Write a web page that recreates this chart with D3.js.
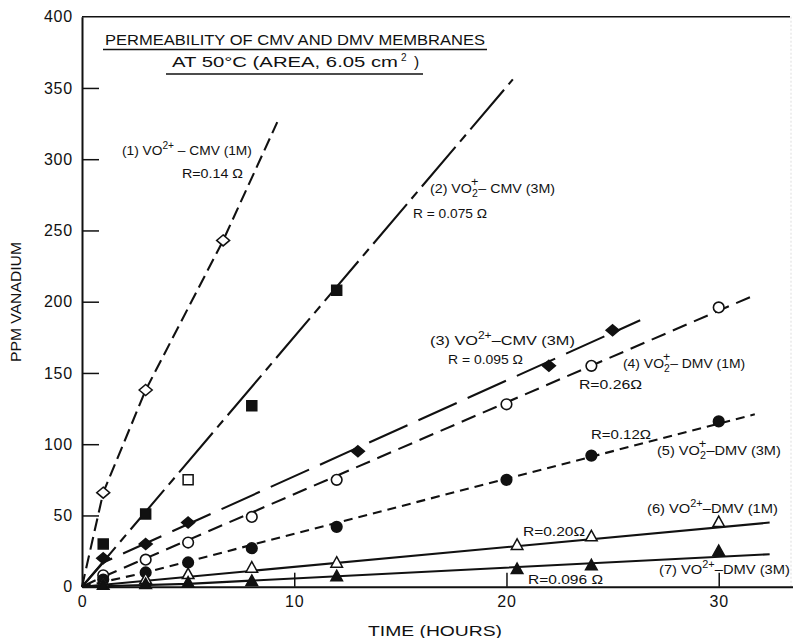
<!DOCTYPE html>
<html><head><meta charset="utf-8">
<script src="https://cdn.jsdelivr.net/npm/d3@7"></script>
<style>
body{margin:0;background:#fff}
svg{display:block}
text{font-family:"Liberation Sans",Arial,sans-serif;fill:#111}
</style>
</head><body>
<svg id="c" width="793" height="638"></svg>
<script>
// ---------- data (hours, ppm vanadium) ----------
const s1Time=[1,3,6.65],            s1Ppm=[66,138,243];          // open diamond
const s2Time=[1,3,8,12],            s2Ppm=[30,51,127,208];       // filled square
const s2OpenTime=[5],               s2OpenPpm=[75];              // open square
const s3Time=[1,3,5,13,22,25],      s3Ppm=[20,30,45,95,155,180]; // filled diamond
const s4Time=[1,3,5,8,12,20,24,30], s4Ppm=[8,19,31,49,75,128,155,196];   // open circle
const s5Time=[1,3,5,8,12,20,24,30], s5Ppm=[5,10,17,27,42,75,92,116];     // filled circle
const s6Time=[1,3,5,8,12,20.5,24,30], s6Ppm=[2.5,5,8.5,13,16.5,29,35,45];   // open triangle
const s7Time=[1,3,5,8,12,20.5,24,30], s7Ppm=[1,1.5,2.6,3.7,7,12,14.7,24.7]; // filled triangle
// drawn (fitted) lines
const fit1Time=[0,1,3,6.65,9.2], fit1Ppm=[0,66,138,243,326];
const fit2Time=[0,20.3],         fit2Ppm=[0,356];
const fit3Time=[0,1,26.3],       fit3Ppm=[0,17,187];
const fit4Time=[0,1,31.6],       fit4Ppm=[0,7,204];
const fit5Time=[0,3,31.7],       fit5Ppm=[0,10,121];
const fit6Time=[0,32.4],         fit6Ppm=[0,45];
const fit7Time=[0,5,32.4],       fit7Ppm=[0,2,22.8];
const xTicks=[0,10,20,30];
const yTicks=[0,50,100,150,200,250,300,350,400];

const zip=(a,b)=>a.map((v,i)=>[v,b[i]]);

const svg=d3.select("#c");
const x=d3.scaleLinear().domain([0,33.5]).range([82,793]);
const y=d3.scaleLinear().domain([0,400]).range([586.7,16.7]);
const ink="#111";

// ---------- frame / axes ----------
svg.append("line").attr("x1",x(0)).attr("x2",790).attr("y1",y(400)).attr("y2",y(400))
  .attr("stroke",ink).attr("stroke-width",1.5);
svg.append("line").attr("x1",791).attr("x2",791).attr("y1",y(400)).attr("y2",y(0))
  .attr("stroke","#ddd").attr("stroke-width",1).attr("stroke-dasharray","2,2");

const yAxis=d3.axisLeft(y).tickValues(yTicks).tickSize(-17).tickSizeOuter(0).tickPadding(9);
const gy=svg.append("g").attr("transform",`translate(${x(0)},0)`).call(yAxis);
gy.select(".domain").attr("stroke",ink).attr("stroke-width",2);
gy.selectAll(".tick line").attr("stroke",ink).attr("stroke-width",1.5)
  .attr("display",d=>(d===0||d===400)?"none":null);
gy.selectAll(".tick text").attr("font-family","DejaVu Sans, sans-serif").attr("font-size",16)
  .attr("letter-spacing",0.8).attr("fill",ink);

const xAxis=d3.axisBottom(x).tickValues(xTicks).tickSize(-14).tickSizeOuter(0).tickPadding(9);
const gx=svg.append("g").attr("transform",`translate(0,${y(0)})`).call(xAxis);
gx.select(".domain").attr("stroke",ink).attr("stroke-width",2);
gx.selectAll(".tick line").attr("stroke",ink).attr("stroke-width",1.5)
  .attr("display",d=>d===0?"none":null);
gx.selectAll(".tick text").attr("font-family","DejaVu Sans, sans-serif").attr("font-size",16)
  .attr("letter-spacing",0.8).attr("fill",ink);

// ---------- lines ----------
const line=d3.line().x(d=>x(d[0])).y(d=>y(d[1]));
const fits=[
  [zip(fit1Time,fit1Ppm),"13,6"],
  [zip(fit2Time,fit2Ppm),"52,7,9,7"],
  [zip(fit3Time,fit3Ppm),"42,12"],
  [zip(fit4Time,fit4Ppm),"15,8"],
  [zip(fit5Time,fit5Ppm),"9,6"],
  [zip(fit6Time,fit6Ppm),null],
  [zip(fit7Time,fit7Ppm),null]
];
svg.append("g").selectAll("path").data(fits).join("path")
  .attr("d",d=>line(d[0])).attr("fill","none").attr("stroke",ink).attr("stroke-width",2.1)
  .attr("stroke-dasharray",d=>d[1]);

// ---------- markers ----------
const shapes={
  diamond:"M0,-5.5L6.5,0L0,5.5L-6.5,0Z",
  square:"M-5,-5H5V5H-5Z",
  triangle:"M0,-6.5L5.8,4L-5.8,4Z"
};
function markers(data,kind,filled){
  const g=svg.append("g");
  const sel=g.selectAll("g").data(data).join("g")
    .attr("transform",d=>`translate(${x(d[0])},${y(d[1])})`);
  if(kind==="circle") sel.append("circle").attr("r",5.3)
    .attr("fill",filled?ink:"#fff").attr("stroke",ink).attr("stroke-width",1.6);
  else sel.append("path").attr("d",shapes[kind])
    .attr("fill",filled?ink:"#fff").attr("stroke",ink).attr("stroke-width",1.5);
}
markers(zip(s1Time,s1Ppm),"diamond",false);
markers(zip(s2Time,s2Ppm),"square",true);
markers(zip(s2OpenTime,s2OpenPpm),"square",false);
markers(zip(s3Time,s3Ppm),"diamond",true);
markers(zip(s4Time,s4Ppm),"circle",false);
markers(zip(s5Time,s5Ppm),"circle",true);
markers(zip(s6Time,s6Ppm),"triangle",false);
markers(zip(s7Time,s7Ppm),"triangle",true);

// ---------- title ----------
svg.append("text").attr("x",105).attr("y",44.5).attr("font-size",15.5)
  .attr("textLength",380).attr("lengthAdjust","spacingAndGlyphs")
  .text("PERMEABILITY OF CMV AND DMV MEMBRANES");
svg.append("line").attr("x1",103).attr("x2",487).attr("y1",49.5).attr("y2",49.5).attr("stroke",ink).attr("stroke-width",1.5);
const t2=svg.append("text").attr("x",172).attr("y",66.5).attr("font-size",15.5);
t2.append("tspan").attr("textLength",226).attr("lengthAdjust","spacingAndGlyphs").text("AT 50°C (AREA, 6.05 cm");
t2.append("tspan").attr("x",401).attr("dy",-6).attr("font-size",10).text("2");
t2.append("tspan").attr("x",414).attr("dy",6).text(")");
svg.append("line").attr("x1",166).attr("x2",423).attr("y1",74).attr("y2",74).attr("stroke",ink).attr("stroke-width",1.5);

// ---------- axis titles ----------
svg.append("text").attr("x",368).attr("y",636).attr("font-size",15.5)
  .attr("textLength",134).attr("lengthAdjust","spacingAndGlyphs").text("TIME (HOURS)");
svg.append("text").attr("transform","translate(21,302) rotate(-90)").attr("text-anchor","middle")
  .attr("font-size",14).attr("textLength",120).attr("lengthAdjust","spacingAndGlyphs").text("PPM VANADIUM");

// ---------- curve labels ----------
function ionLabel(xp,yp,prefix,kind,suffix,len){
  const t=svg.append("text").attr("x",xp).attr("y",yp).attr("font-size",13.5);
  t.append("tspan").text(prefix+"VO");
  if(kind==="sup"){
    t.append("tspan").attr("dy",-6).attr("font-size",10).text("2+");
    t.append("tspan").attr("dy",6).text(suffix);
  } else {
    t.append("tspan").attr("dy",4).attr("font-size",10).text("2");
    t.append("tspan").attr("dx",-6.5).attr("dy",-11).attr("font-size",12).text("+");
    t.append("tspan").attr("dy",7).text(suffix);
  }
  const w=t.node().getComputedTextLength();
  t.attr("transform",`translate(${xp},0) scale(${len/w},1) translate(${-xp},0)`);
}
function rLabel(xp,yp,txt,len){
  svg.append("text").attr("x",xp).attr("y",yp).attr("font-size",13.5)
    .attr("textLength",len).attr("lengthAdjust","spacingAndGlyphs").text(txt);
}
ionLabel(122,155,"(1) ","sup"," – CMV (1M)",130);
rLabel(182,178,"R=0.14 Ω",61);
ionLabel(430,193,"(2) ","sub","– CMV (3M)",132);
rLabel(413,218,"R = 0.075 Ω",74);
ionLabel(430,345,"(3) ","sup","–CMV (3M)",145);
rLabel(448,364,"R = 0.095 Ω",75);
ionLabel(623,368,"(4) ","sub","– DMV (1M)",129);
rLabel(579,389,"R=0.26Ω",63);
rLabel(591,439,"R=0.12Ω",60);
ionLabel(657,455,"(5) ","sub","–DMV (3M)",131);
ionLabel(647,513,"(6) ","sup","–DMV (1M)",131);
rLabel(523,536,"R=0.20Ω",62);
ionLabel(659,574,"(7) ","sup","–DMV (3M)",131);
rLabel(528,584,"R=0.096 Ω",75);
</script>
</body></html>
